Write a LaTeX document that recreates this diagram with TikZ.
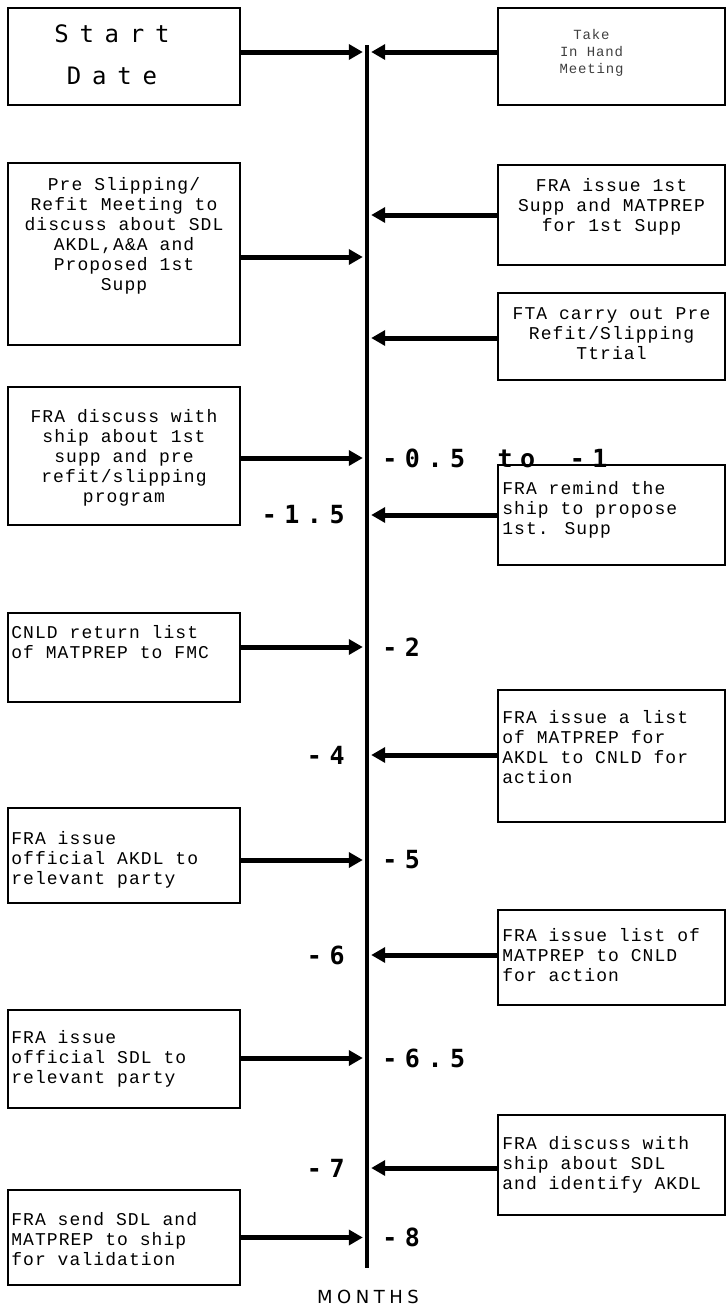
\documentclass[tikz,border=0pt]{standalone}
\usepackage{fontspec}
\usepackage{tikz}
\usetikzlibrary{arrows.meta}
\usetikzlibrary{positioning}
\usetikzlibrary{calc}

\newfontfamily\boxfont{Liberation Mono}[LetterSpace=6]
\newfontfamily\tickfont{DejaVu Sans Mono}[LetterSpace=30]
\newfontfamily\titlefont{DejaVu Sans Mono}[LetterSpace=45]
\newfontfamily\monthfont{DejaVu Sans}[LetterSpace=25]

\tikzset{
	evbox/.style={draw, rectangle, line width=1.8pt, inner sep=0pt},
	lbox/.style={evbox, minimum width=232pt},
	rbox/.style={evbox, minimum width=227pt},
	evtext/.style={font=\fontsize{18}{20}\boxfont, inner sep=0pt},
	ctext/.style={evtext, align=center},
	ltext/.style={evtext, align=left, anchor=west},
	flow/.style={line width=5pt, -{Triangle[length=14pt,width=15pt]}, shorten >=2pt},
	tick/.style={font=\fontsize{25}{27}\tickfont\bfseries, inner sep=0pt},
}

\begin{document}
\begin{tikzpicture}[x=1pt,y=-1pt]
	\useasboundingbox (0,0) rectangle (728,1310);

	% Idotengely
	% ----------
	\node[fill, inner sep=0pt, minimum width=4pt, minimum height=1223pt] (axis) at (367,656.5) {};
	\node[font=\fontsize{18}{20}\monthfont, inner sep=0pt] (months) at (368,1297) {MONTHS};

	% bal oszlop
	% ----------
	\node[lbox, minimum height=97pt] (start) at (124,56.5) {};
	\node[ctext, font=\fontsize{24}{20}\titlefont] (starttxt) at ([xshift=-12pt,yshift=2pt]start.center) {Start\\[22pt]Date};

	\node[lbox, minimum height=182pt] (pre) at (124,254) {};
	\node[ctext] (pretxt) at ([yshift=18pt]pre.center) {Pre Slipping/\\Refit Meeting to\\discuss about SDL\\AKDL,A\&A and\\Proposed 1st\\Supp};

	\node[lbox, minimum height=138pt] (fradisc) at (124,456) {};
	\node[ctext] (fradisctxt) at ([yshift=-2pt]fradisc.center) {FRA discuss with\\ship about 1st\\supp and pre\\refit/slipping\\program};

	\node[lbox, minimum height=89pt] (cnld) at (124,657.5) {};
	\node[ltext] (cnldtxt) at ([xshift=4pt,yshift=15.5pt]cnld.west) {CNLD return list\\of MATPREP to FMC};

	\node[lbox, minimum height=95pt] (akdl) at (124,855.5) {};
	\node[ltext] (akdltxt) at ([xshift=4pt,yshift=-4pt]akdl.west) {FRA issue\\official AKDL to\\relevant party};

	\node[lbox, minimum height=98pt] (sdl) at (124,1059) {};
	\node[ltext] (sdltxt) at ([xshift=4pt]sdl.west) {FRA issue\\official SDL to\\relevant party};

	\node[lbox, minimum height=95pt] (send) at (124,1237.5) {};
	\node[ltext] (sendtxt) at ([xshift=4pt,yshift=-2pt]send.west) {FRA send SDL and\\MATPREP to ship\\for validation};

	% jobb oszlop
	% -----------
	\node[rbox, minimum height=97pt] (take) at (611.5,56.5) {};
	\node[ctext, font=\fontsize{14}{17}\boxfont, text=black!75] (taketxt) at ([xshift=-20pt,yshift=4pt]take.center) {Take\\In Hand\\Meeting};

	\node[rbox, minimum height=100pt] (supp) at (611.5,215) {};
	\node[ctext] (supptxt) at ([yshift=8pt]supp.center) {FRA issue 1st\\Supp and MATPREP\\for 1st Supp};

	\node[rbox, minimum height=87pt] (fta) at (611.5,336.5) {};
	\node[ctext] (ftatxt) at ([yshift=3pt]fta.center) {FTA carry out Pre\\Refit/Slipping\\Ttrial};

	\node[rbox, minimum height=100pt] (remind) at (611.5,515) {};
	\node[ltext] (remindtxt) at ([xshift=5pt,yshift=5pt]remind.west) {FRA remind the\\ship to propose\\1st. Supp};

	\node[rbox, minimum height=132pt] (list) at (611.5,756) {};
	\node[ltext] (listtxt) at ([xshift=5pt,yshift=9pt]list.west) {FRA issue a list\\of MATPREP for\\AKDL to CNLD for\\action};

	\node[rbox, minimum height=95pt] (listof) at (611.5,957.5) {};
	\node[ltext] (listoftxt) at ([xshift=5pt,yshift=2pt]listof.west) {FRA issue list of\\MATPREP to CNLD\\for action};

	\node[rbox, minimum height=100pt] (discsdl) at (611.5,1165) {};
	\node[ltext] (discsdltxt) at ([xshift=5pt]discsdl.west) {FRA discuss with\\ship about SDL\\and identify AKDL};

	% nyilak a tengelyre
	\foreach \b/\s in {start/4.5, pre/-3, fradisc/-2, cnld/10.5, akdl/-4.5, sdl/1, send/0}{
		\coordinate (\b-out) at ([yshift=\s pt]\b.east);
		\draw[flow] (\b-out) -- (\b-out -| axis.west);
	}
	\foreach \b/\s in {take/4.5, supp/0, fta/-1.5, remind/0, list/1, listof/2.5, discsdl/-3}{
		\coordinate (\b-out) at ([yshift=\s pt]\b.west);
		\draw[flow] (\b-out) -- (\b-out -| axis.east);
	}

	% honapok
	\node[tick, anchor=west] (m05) at ($(fradisc-out -| axis.east)+(13,0)$) {-0.5 \hspace{10pt}to \hspace{12pt}-1};
	\node[tick, anchor=east] (m15) at ($(remind-out -| axis.west)+(-20,0)$) {-1.5};
	\node[tick, anchor=west] (m2) at ($(cnld-out -| axis.east)+(13,0)$) {-2};
	\node[tick, anchor=east] (m4) at ($(list-out -| axis.west)+(-20,0)$) {-4};
	\node[tick, anchor=west] (m5) at ($(akdl-out -| axis.east)+(13,0)$) {-5};
	\node[tick, anchor=east] (m6) at ($(listof-out -| axis.west)+(-20,0)$) {-6};
	\node[tick, anchor=west] (m65) at ($(sdl-out -| axis.east)+(13,0)$) {-6.5};
	\node[tick, anchor=east] (m7) at ($(discsdl-out -| axis.west)+(-20,0)$) {-7};
	\node[tick, anchor=west] (m8) at ($(send-out -| axis.east)+(13,0)$) {-8};

\end{tikzpicture}
\end{document}
